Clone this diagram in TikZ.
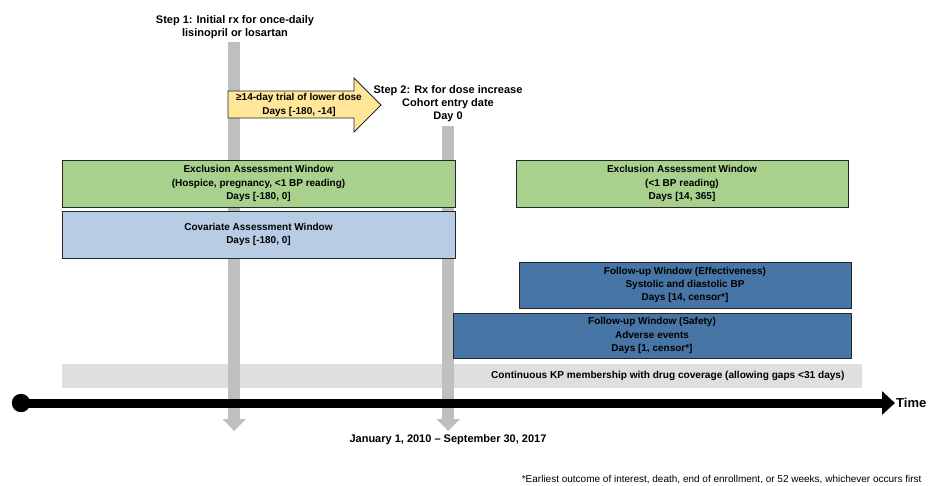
\documentclass[tikz,border=0pt]{standalone}
\usepackage{fontspec}
\setmainfont{Liberation Sans}
\usetikzlibrary{arrows.meta}
\definecolor{exclgreen}{RGB}{169,209,142}
\definecolor{covblue}{RGB}{184,204,228}
\definecolor{followblue}{RGB}{71,117,165}
\definecolor{trialyellow}{RGB}{255,230,153}
\definecolor{bargray}{RGB}{191,191,191}
\definecolor{bandgray}{RGB}{223,223,223}
\begin{document}
\begin{tikzpicture}[x=1pt,y=-1pt,
    window/.style={draw=black!85, line width=0.9pt, inner sep=0pt, align=center,
        font=\fontsize{10}{13.4}\selectfont\bfseries},
    marker/.style={draw=bargray, line width=11.5pt, -{Triangle[length=12pt,width=23pt]}},
    steptext/.style={align=center, font=\fontsize{11}{13.3}\selectfont\bfseries}]
    \useasboundingbox (0,0) rectangle (935,485);
    % membership band
    \node[fill=bandgray, minimum width=800pt, minimum height=24pt, inner sep=0pt] (band) at (462,376) {};
    \node[anchor=east, font=\fontsize{10.1}{12}\selectfont\bfseries] (member) at (848,376)
        {Continuous KP membership with drug coverage (allowing gaps <31 days)};
    % step markers
    \node[steptext] (step1) at (235,27) {Step 1: Initial rx for once-daily\\lisinopril or losartan};
    \node[steptext] (step2) at (448,103.5) {Step 2: Rx for dose increase\\Cohort entry date\\Day 0};
    \coordinate (m1top) at (234.2,42);
    \coordinate (m1end) at (234.2,431);
    \coordinate (m2top) at (448.2,126);
    \coordinate (m2end) at (448.2,431);
    \draw[marker] (m1top) -- (m1end);
    \draw[marker] (m2top) -- (m2end);
    % trial arrow
    \draw[fill=trialyellow, draw=black!85, line width=0.9pt]
        (228,91) -- (354,91) -- (354,78) -- (381,105) -- (354,132) -- (354,118) -- (228,118) -- cycle;
    \node[align=center, font=\fontsize{10}{13.4}\selectfont\bfseries] (trial) at (299,105)
        {≥14-day trial of lower dose\\Days [-180, -14]};
    % windows
    \node[window, fill=exclgreen, minimum width=393pt, minimum height=47pt] (excl1) at (258.5,183.5)
        {Exclusion Assessment Window\\(Hospice, pregnancy, <1 BP reading)\\Days [-180, 0]};
    \node[window, fill=covblue, minimum width=393pt, minimum height=47pt] (covar) at (258.5,234.5)
        {Covariate Assessment Window\\Days [-180, 0]};
    \node[window, fill=exclgreen, minimum width=332pt, minimum height=47pt] (excl2) at (682,183.5)
        {Exclusion Assessment Window\\(<1 BP reading)\\Days [14, 365]};
    \node[window, fill=followblue, minimum width=332pt, minimum height=46pt] (effect) at (685,285)
        {Follow-up Window (Effectiveness)\\Systolic and diastolic BP\\Days [14, censor*]};
    \node[window, fill=followblue, minimum width=398pt, minimum height=45pt] (safety) at (652,335.5)
        {Follow-up Window (Safety)\\Adverse events\\Days [1, censor*]};
    % time line
    \coordinate (tstart) at (21,403);
    \coordinate (tend) at (895,403);
    \fill (tstart) circle (9.2pt);
    \draw[line width=9pt, -{Triangle[length=13pt,width=23pt]}] (tstart) -- (tend);
    \node[anchor=west, font=\fontsize{13}{15}\selectfont\bfseries, inner sep=1pt] (time) at (tend) {Time};
    \node[font=\fontsize{11}{13}\selectfont\bfseries] (period) at (448,440)
        {January 1, 2010 -- September 30, 2017};
    \node[anchor=east, font=\fontsize{10}{12}\selectfont] (note) at (925,479.5)
        {*Earliest outcome of interest, death, end of enrollment, or 52 weeks, whichever occurs first};
\end{tikzpicture}
\end{document}
